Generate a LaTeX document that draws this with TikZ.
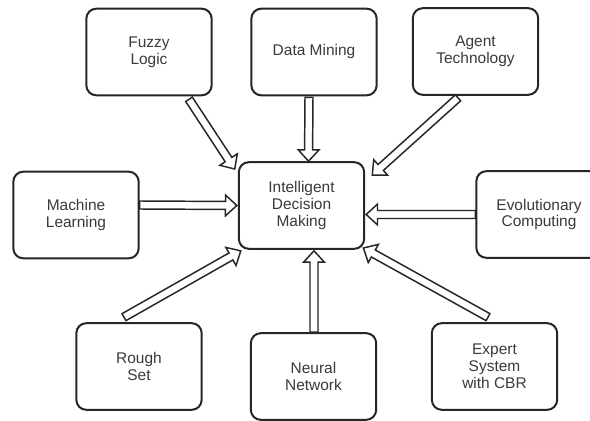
\documentclass[tikz,border=0pt]{standalone}
\usepackage{fontspec}
\setmainfont{Liberation Sans}
\usetikzlibrary{calc}
\definecolor{lineclr}{HTML}{262626}
\definecolor{txtclr}{HTML}{3A3A3A}
\tikzset{
  box/.style={draw=lineclr, line width=1.5pt, rounded corners=7.5pt, fill=white,
    minimum width=94pt, minimum height=65pt, align=center, text=txtclr,
    font=\fontsize{11.6}{12.6}\selectfont, inner sep=0pt},
  barrow/.style={draw=lineclr, line width=1.1pt, fill=white, line join=miter}
}
\newcommand\blockarrow[2]{%
  \draw[barrow] let \p1=(#1), \p2=(#2),
    \n1={atan2(\y2-\y1,\x2-\x1)}, \n2={veclen(\x2-\x1,\y2-\y1)} in
    [shift={(\p1)}, rotate=\n1]
    (0pt,-3pt) -- (\n2-8.5pt,-3pt) -- (\n2-8.5pt,-7.8pt) -- (\n2,0pt)
    -- (\n2-8.5pt,7.8pt) -- (\n2-8.5pt,3pt) -- (0pt,3pt) -- cycle;
}
\begin{document}
\begin{tikzpicture}[x=0.75pt, y=-0.75pt]
\useasboundingbox (0,0) rectangle (590,421);
\clip (0,0) rectangle (590,421);
\node[box] (fuzzy)   at (149,52)    {Fuzzy\\Logic};
\node[box] (data)    at (314,52)    {Data Mining};
\node[box] (agent)   at (475.5,51.5){Agent\\Technology};
\node[box] (machine) at (76,215)    {Machine\\Learning};
\node[box] (central) at (301.5,205.5){Intelligent\\Decision\\Making};
\node[box] (evo)     at (539,214.5) {Evolutionary\\Computing};
\node[box] (rough)   at (139,366.5) {Rough\\Set};
\node[box] (neural)  at (313.5,376.5){Neural\\Network};
\node[box] (expert)  at (494.5,366.5){Expert\\System\\with CBR};

\coordinate (a1) at ($(fuzzy.south)+(40,3)$);
\coordinate (b1) at ($(central.north west)+(-3,8)$);
\coordinate (a2) at ($(data.south)+(-5,1)$);
\coordinate (b2) at ($(central.north)+(7,0)$);
\coordinate (a3) at ($(agent.south)+(-17.5,2)$);
\coordinate (b3) at ($(central.north east)+(7,14)$);
\coordinate (a4) at ($(machine.east)+(0,-10)$);
\coordinate (b4) at ($(central.west)+(-1,0)$);
\coordinate (a5) at ($(evo.west)+(0,0)$);
\coordinate (b5) at ($(central.east)+(1,9)$);
\coordinate (a6) at ($(rough.north)+(-15,-5)$);
\coordinate (b6) at ($(central.south west)+(3,1)$);
\coordinate (a7) at ($(neural.north)+(0.5,0)$);
\coordinate (b7) at ($(central.south)+(12.5,1)$);
\coordinate (a8) at ($(expert.north)+(-6.5,-5)$);
\coordinate (b8) at ($(central.south east)+(-2,-2)$);

\blockarrow{a1}{b1}
\blockarrow{a2}{b2}
\blockarrow{a3}{b3}
\blockarrow{a4}{b4}
\blockarrow{a5}{b5}
\blockarrow{a6}{b6}
\blockarrow{a7}{b7}
\blockarrow{a8}{b8}
\end{tikzpicture}
\end{document}
